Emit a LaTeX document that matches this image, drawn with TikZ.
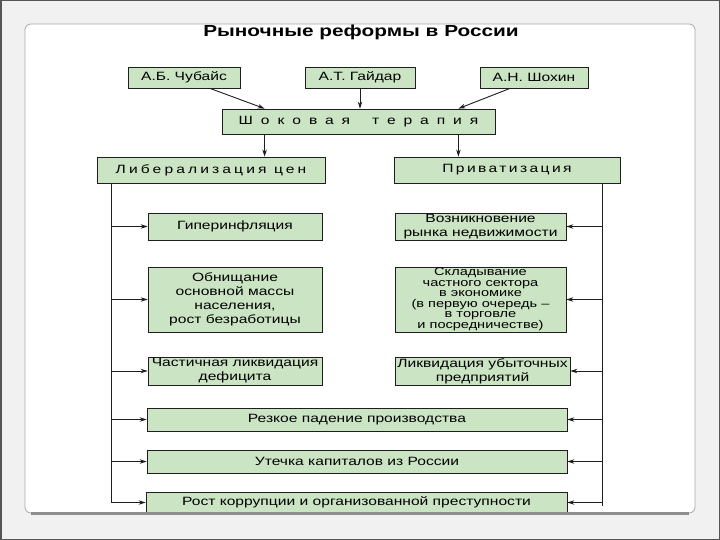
\documentclass[tikz,border=0pt]{standalone}
\usepackage{fontspec}
\setmainfont[FakeStretch=1.3]{Liberation Sans}
\usetikzlibrary{arrows.meta, calc}
\definecolor{boxfill}{HTML}{CBE4C3}
\definecolor{boxline}{HTML}{1E1E1E}
\definecolor{slidebg}{HTML}{F1F1F1}
\definecolor{slideline}{HTML}{555555}
\definecolor{panelline}{HTML}{A8A8A8}
\tikzset{
  box/.style   = {rectangle, draw=boxline, fill=boxfill, line width=0.8pt,
                  align=center, font=\fontsize{12}{14}\selectfont, inner sep=1pt},
  sbox/.style  = {box, font=\fontsize{11.2}{10.5}\selectfont},
  title/.style = {font=\fontsize{16}{18}\selectfont\bfseries},
  flow/.style  = {-{Stealth[length=7pt, width=4.5pt]}, line width=0.9pt, draw=boxline},
  spine/.style = {line width=0.9pt, draw=boxline},
}
\begin{document}
\begin{tikzpicture}[x=1pt, y=-1pt]
    \useasboundingbox (0,0) rectangle (720,540);
    % slide frame
    \fill[slidebg] (0,0) rectangle (720,540);
    \draw[slideline, line width=1.5pt] (0.75,0.75) rectangle (719.25,539.25);
    \fill[white, rounded corners=6pt] (25,24) rectangle (695,513);
    \draw[panelline, line width=0.8pt, rounded corners=6pt] (25,24) rectangle (695,513);

    \node[title] (ttl) at (361,32) {Рыночные реформы в России};

    % authors
    \node[box, minimum width=112pt, minimum height=21pt] (chub) at (184,77.5) {А.Б. Чубайс};
    \node[box, minimum width=110pt, minimum height=21pt] (gaid) at (360,77.5) {А.Т. Гайдар};
    \node[box, minimum width=108pt, minimum height=21pt] (shoh) at (534,77.5) {А.Н. Шохин};
    \node[box, minimum width=273pt, minimum height=25pt] (shock) at (358.5,121.5)
        {\addfontfeature{LetterSpace=66}Шоковая\hspace{22pt}терапия};

    % two directions
    \node[box, minimum width=228pt, minimum height=26pt] (lib) at (211,170)
        {\addfontfeature{LetterSpace=26}Либерализация цен};
    \node[box, minimum width=226pt, minimum height=26pt] (priv) at (507,170)
        {\addfontfeature{LetterSpace=20}Приватизация};

    % consequences
    \node[box, minimum width=174pt, minimum height=27pt] (hyper) at (235,226.5) {Гиперинфляция};
    \node[box, minimum width=174pt, minimum height=65pt] (pover) at (235,299.5)
        {Обнищание\\основной массы\\населения,\\рост безработицы};
    \node[box, minimum width=174pt, minimum height=28pt] (defic) at (235,371)
        {Частичная ликвидация\\дефицита};
    \node[box, minimum width=171pt, minimum height=27pt] (realty) at (480.5,226.5)
        {Возникновение\\рынка недвижимости};
    \node[sbox, minimum width=171pt, minimum height=65pt] (privsec) at (480.5,299.5)
        {Складывание\\частного сектора\\в экономике\\(в первую очередь –\\в торговле\\и посредничестве)};
    \node[box, minimum width=175pt, minimum height=28pt] (liquid) at (482.5,371)
        {Ликвидация убыточных\\предприятий};
    \node[box, minimum width=420pt, minimum height=23pt] (fall) at (357,419.5) {Резкое падение производства};
    \node[box, minimum width=420pt, minimum height=23pt] (leak) at (357,461.5) {Утечка капиталов из России};
    \node[box, minimum width=421pt, minimum height=21pt] (corr) at (356.5,502.5)
        {Рост коррупции и организованной преступности};

    % arrows
    \draw[flow] ($(chub.south)+(26,0)$) -- ($(shock.north west)+(43,0)$);
    \draw[flow] (gaid) -- (gaid |- shock.north);
    \draw[flow] ($(shoh.south)+(-24,0)$) -- ($(shock.north east)+(-37,0)$);
    \coordinate (sl) at ($(shock.south west)+(43,0)$);
    \coordinate (sr) at ($(shock.south east)+(-37,0)$);
    \draw[flow] (sl) -- (sl |- lib.north);
    \draw[flow] (sr) -- (sr |- priv.north);

    \coordinate (ltop) at ($(lib.south west)+(15,0)$);
    \coordinate (rtop) at ($(priv.south east)+(-18,0)$);
    \draw[spine] (ltop) -- (ltop |- corr.west);
    \draw[spine] (rtop) -- ($(rtop |- corr.east)+(0,3)$);
    \foreach \b in {hyper, pover, defic, fall, leak, corr}{\draw[flow] (ltop |- \b.west) -- (\b.west);}
    \foreach \b in {realty, privsec, liquid, fall, leak, corr}{\draw[flow] (rtop |- \b.east) -- (\b.east);}

    % panel bottom edge
    \draw[panelline!85!black, line width=3pt] (31,513.5) -- (689,513.5);
\end{tikzpicture}
\end{document}
